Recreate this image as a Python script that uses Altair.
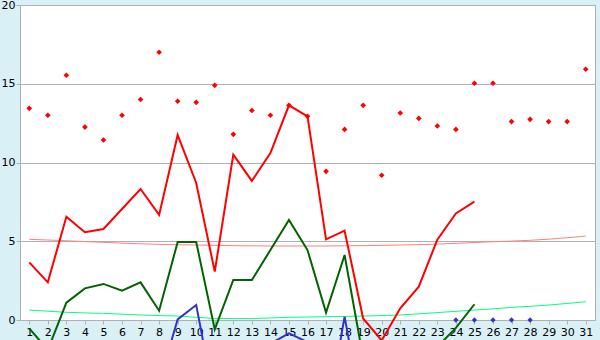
import altair as alt
import pandas as pd

days = list(range(1, 32))

red_points = [13.44, 13.0, 15.54, 12.25, 11.43, 13.0, 14.0, 17.0, 13.89, 13.82, 14.9,
              11.79, 13.3, 13.0, 13.63, 12.93, 9.44, 12.1, 13.63, 9.19, 13.14, 12.8,
              12.32, 12.1, 15.03, 15.03, 12.6, 12.74, 12.6, 12.6, 15.92]

red_line_days = list(range(1, 26))
red_line = [3.66, 2.39, 6.56, 5.57, 5.78, 7.05, 8.32, 6.67, 11.75, 8.7, 3.07, 10.5, 8.83,
            10.6, 13.63, 12.93, 5.12, 5.67, 0.1, -1.3, 0.74, 2.12, 5.1, 6.77, 7.51]

green_line_days = list(range(1, 26))
green_line = [-0.53, -1.9, 1.1, 2.01, 2.29, 1.86, 2.39, 0.59, 4.95, 4.95, -0.6, 2.54, 2.54,
              4.44, 6.35, 4.44, 0.47, 4.13, -2.4, -2.6, -2.6, -2.3, -1.7, -0.5, 1.0]

blue_line_days = list(range(8, 20))
blue_line = [-4.0, 0.04, 0.95, -5.2, -4.0, -3.0, -1.5, -0.85, -1.4, -6.5, 0.21, -6.2]

blue_point_days = [24, 25, 26, 27, 28]
blue_points = [0, 0, 0, 0, 0]

red_trend = [5.12, 5.08, 5.03, 4.98, 4.93, 4.88, 4.84, 4.80, 4.78, 4.76, 4.74, 4.72, 4.71,
             4.70, 4.70, 4.70, 4.70, 4.71, 4.72, 4.74, 4.76, 4.78, 4.82, 4.87, 4.92, 4.97,
             5.01, 5.06, 5.13, 5.22, 5.33]

green_trend = [0.63, 0.56, 0.49, 0.45, 0.42, 0.37, 0.32, 0.28, 0.25, 0.17, 0.10, 0.09, 0.09,
               0.13, 0.17, 0.19, 0.21, 0.23, 0.25, 0.28, 0.32, 0.39, 0.47, 0.55, 0.63, 0.71,
               0.80, 0.87, 0.95, 1.05, 1.16]

y_ticks = [0, 5, 10, 15, 20]

FONT = "DejaVu Sans"
GRID = "#b0b0b0"

x_enc = alt.X("day:Q",
              scale=alt.Scale(domain=[0.5, 31.5], nice=False, zero=False),
              axis=alt.Axis(values=days, format="d", grid=False, domain=False,
                            tickColor=GRID, tickSize=4, labelPadding=2,
                            labelFont=FONT, labelFontSize=11, labelColor="black",
                            labelOverlap=False, labelFlush=False, title=None))
y_enc = alt.Y("v:Q",
              scale=alt.Scale(domain=[0, 20], nice=False, zero=False),
              axis=alt.Axis(values=y_ticks, grid=True, gridColor=GRID, domain=False,
                            tickColor=GRID, tickSize=4, labelPadding=1,
                            labelFont=FONT, labelFontSize=11, labelColor="black",
                            title=None))


def df(d, v):
    return pd.DataFrame({"day": d, "v": v})


rt = alt.Chart(df(days, red_trend)).mark_line(color="#ff8080", strokeWidth=1).encode(x=x_enc, y=y_enc)
gt = alt.Chart(df(days, green_trend)).mark_line(color="#00ff80", strokeWidth=1).encode(x=x_enc, y=y_enc)
gl = alt.Chart(df(green_line_days, green_line)).mark_line(color="#006400", strokeWidth=2).encode(x=x_enc, y=y_enc)
bl = alt.Chart(df(blue_line_days, blue_line)).mark_line(color="#3333cc", strokeWidth=2).encode(x=x_enc, y=y_enc)
rl = alt.Chart(df(red_line_days, red_line)).mark_line(color="#ff0000", strokeWidth=2).encode(x=x_enc, y=y_enc)
rp = alt.Chart(df(days, red_points)).mark_point(shape="diamond", filled=True, size=32,
                                                color="#ff0000", opacity=1).encode(x=x_enc, y=y_enc)
bp = alt.Chart(df(blue_point_days, blue_points)).mark_point(shape="diamond", filled=True, size=28,
                                                            color="#3333cc", opacity=1).encode(x=x_enc, y=y_enc)

chart = alt.layer(rt, gt, gl, bl, rl, rp, bp).properties(
    width=575, height=315,
    autosize=alt.AutoSizeParams(type="none"),
    padding={"left": 20, "top": 5, "right": 5, "bottom": 20},
    background="#d9f0f7",
).configure_view(fill="white", stroke=GRID, strokeWidth=1)

chart.save("out.html", embed_options={"renderer": "svg", "actions": False})
